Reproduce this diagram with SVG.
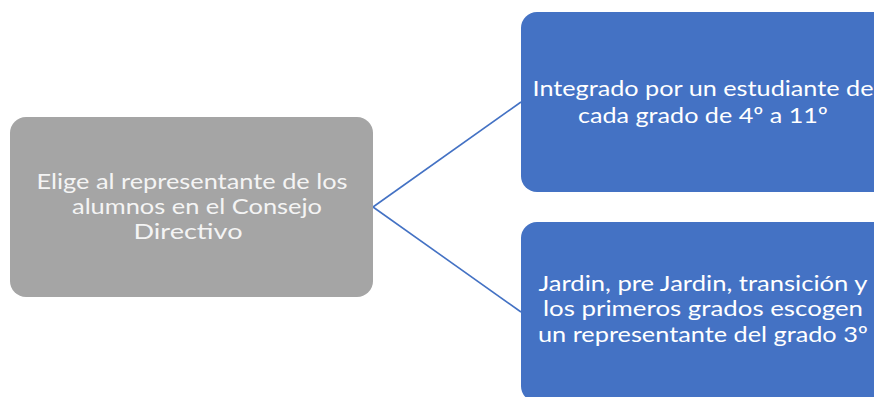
<svg xmlns="http://www.w3.org/2000/svg" width="874" height="397" viewBox="0 0 874 397">
<style>
.box-gray{fill:#A5A5A5;}
.box-blue{fill:#4472C4;}
.t{font-family:Lato,"Open Sans","Liberation Sans",sans-serif;font-size:22px;fill:#FFFFFF;text-anchor:middle;}
.g{fill:#F4F4F4;}
.conn{stroke:#4472C4;stroke-width:1.6;fill:none;}
</style>
<rect width="874" height="397" fill="#FFFFFF"/>
<g id="connectors">
<line class="conn" x1="373" y1="207" x2="521" y2="102"/>
<line class="conn" x1="373" y1="207" x2="521" y2="312"/>
</g>
<g id="node-elige">
<rect class="box-gray" x="10" y="117" width="363" height="180" rx="16"/>
<text class="t g" x="192" y="189" textLength="311" lengthAdjust="spacingAndGlyphs">Elige al representante de los</text>
<text class="t g" x="197" y="214" textLength="250" lengthAdjust="spacingAndGlyphs">alumnos en el Consejo</text>
<text class="t g" x="188" y="239" textLength="109" lengthAdjust="spacingAndGlyphs">Directivo</text>
</g>
<g id="node-integrado">
<rect class="box-blue" x="521" y="12" width="370" height="180" rx="16"/>
<text class="t" x="703" y="96" textLength="341" lengthAdjust="spacingAndGlyphs">Integrado por un estudiante de</text>
<text class="t" x="703" y="123" textLength="250" lengthAdjust="spacingAndGlyphs">cada grado de 4º a 11º</text>
</g>
<g id="node-jardin">
<rect class="box-blue" x="521" y="222" width="370" height="180" rx="16"/>
<text class="t" x="703" y="291" textLength="329" lengthAdjust="spacingAndGlyphs">Jardin, pre Jardin, transición y</text>
<text class="t" x="703" y="316" textLength="320" lengthAdjust="spacingAndGlyphs">los primeros grados escogen</text>
<text class="t" x="703" y="342" textLength="330" lengthAdjust="spacingAndGlyphs">un representante del grado 3º</text>
</g>
</svg>
